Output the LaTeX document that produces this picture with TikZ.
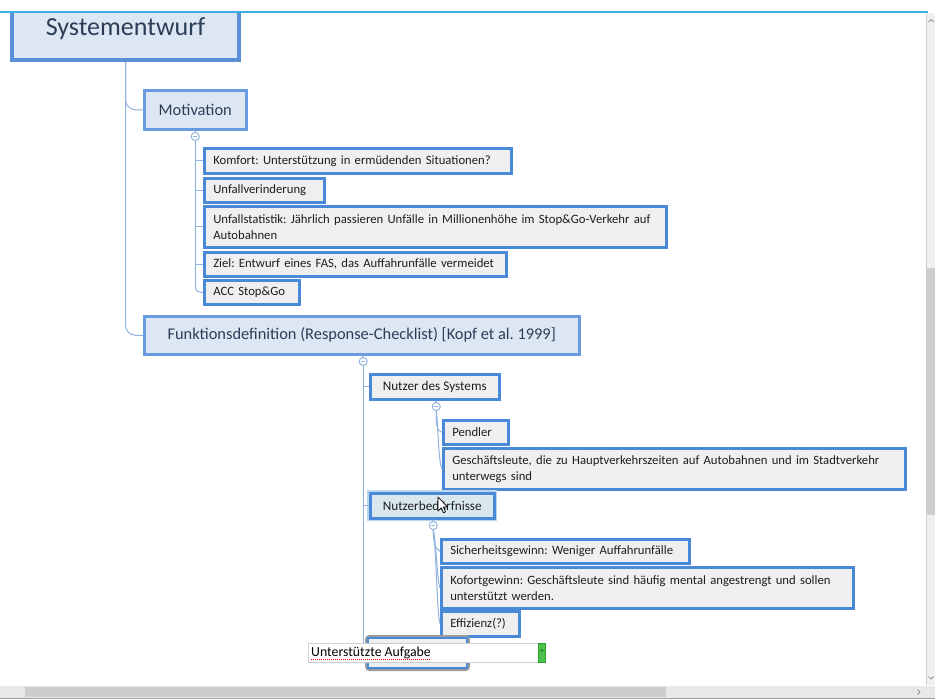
\documentclass[tikz,border=0pt]{standalone}
\usepackage{fontspec}
\setmainfont{Carlito}
\frenchspacing
\usetikzlibrary{calc}
\definecolor{connc}{HTML}{8FB3DE}
\definecolor{rootb}{HTML}{5A8FD8}
\definecolor{headb}{HTML}{6A9BE0}
\definecolor{headf}{HTML}{DDE7F3}
\definecolor{headt}{HTML}{2B3D57}
\definecolor{leafb}{HTML}{4A88D8}
\definecolor{leaff}{HTML}{EFEFEF}
\definecolor{leaft}{HTML}{1E1E1E}
\definecolor{selfill}{HTML}{D9E7EE}
\definecolor{glowc}{HTML}{BCD6EE}
\definecolor{topline}{HTML}{3DAEE0}
\definecolor{grayb}{HTML}{9C9C9C}
\definecolor{editb}{HTML}{D0D0D0}
\definecolor{greenh}{HTML}{4CC24C}
\definecolor{greenb}{HTML}{2E9E2E}
\definecolor{thumbc}{HTML}{CDCDCD}
\definecolor{trackc}{HTML}{F0F0F0}
\definecolor{htrack}{HTML}{E8E8E8}
\tikzset{
  conn/.style={draw=connc, line width=1pt},
  rootbox/.style={draw=rootb, line width=4pt, fill=headf, text=headt,
    font=\fontsize{26}{30}\selectfont, anchor=north west, inner sep=0pt},
  headbox/.style={draw=headb, line width=2.5pt, fill=headf, text=headt,
    font=\fontsize{16.4}{19}\selectfont, anchor=north west, inner sep=0pt},
  midbox/.style={draw=leafb, line width=2.5pt, fill=leaff, text=leaft,
    font=\fontsize{13.2}{16}\selectfont, anchor=north west, inner sep=0pt},
  selbox/.style={midbox, fill=selfill, preaction={draw=glowc, line width=6pt}},
  leafbox/.style={midbox, font=\fontsize{12.7}{16}\selectfont, align=left, inner xsep=9pt, inner ysep=0pt},
  coll/.style={circle, draw=connc, fill=white, line width=0.8pt,
    minimum size=8pt, inner sep=0pt,
    path picture={\draw[connc, line width=0.8pt]
      ([xshift=-2.2pt]path picture bounding box.center) --
      ([xshift=2.2pt]path picture bounding box.center);}},
}
\begin{document}
\begin{tikzpicture}[x=1pt,y=-1pt]
\useasboundingbox (0,0) rectangle (935,699);
\fill[white] (0,0) rectangle (935,699);
\begin{scope}
\clip (0,12) rectangle (926,685);
% root and level 1
\node[rootbox, minimum width=227, minimum height=62] (root) at (10,-4) {Systementwurf};
\node[headbox, minimum width=102, minimum height=39] (motiv) at (143,89) {Motivation};
\node[headbox, minimum width=435, minimum height=38] (funk) at (143,315) {Funktionsdefinition (Response-Checklist) [Kopf et al. 1999]};
% Motivation children
\node[leafbox, text width=289, minimum height=25] (komf) at (203,147) {\mbox{Komfort: Unterstützung in ermüdenden Situationen?}};
\node[leafbox, text width=102, minimum height=24] (unfv) at (203,177) {\mbox{Unfallverinderung}};
\node[leafbox, text width=444, minimum height=41] (unfs) at (203,205) {\mbox{Unfallstatistik: Jährlich passieren Unfälle in Millionenhöhe im Stop\&Go-Verkehr auf}\\\mbox{Autobahnen}};
\node[leafbox, text width=284, minimum height=24] (ziel) at (203,251) {\mbox{Ziel: Entwurf eines FAS, das Auffahrunfälle vermeidet}};
\node[leafbox, text width=77, minimum height=24] (acc) at (203,279) {\mbox{ACC Stop\&Go}};
% Funktionsdefinition children
\node[midbox, minimum width=129, minimum height=25] (nutz) at (369,373) {Nutzer des Systems};
\node[leafbox, text width=47, minimum height=24] (pend) at (442,419) {\mbox{Pendler}};
\node[leafbox, text width=444, minimum height=41] (gesch) at (442,447) {\mbox{Geschäftsleute, die zu Hauptverkehrszeiten auf Autobahnen und im Stadtverkehr}\\\mbox{unterwegs sind}};
\node[selbox, minimum width=124, minimum height=25] (bed) at (369,492) {Nutzerbedürfnisse};
\node[leafbox, text width=230, minimum height=24] (sich) at (440,538) {\mbox{Sicherheitsgewinn: Weniger Auffahrunfälle}};
\node[leafbox, text width=394, minimum height=41] (kof) at (440,566) {\mbox{Kofortgewinn: Geschäftsleute sind häufig mental angestrengt und sollen}\\\mbox{unterstützt werden.}};
\node[leafbox, text width=60, minimum height=25] (eff) at (440,610) {\mbox{Effizienz(?)}};
% node being edited
\node[anchor=north west, draw=grayb, line width=3pt, rounded corners=3pt, fill=leaff,
  minimum width=102, minimum height=33, inner sep=0pt] (aufg) at (365,635) {};
\draw[leafb, line width=2.5pt] ([shift={(3,3)}]aufg.north west) rectangle ([shift={(-3,-3)}]aufg.south east);
% collapse circles
\node[coll] (c1) at ($(motiv.south)+(0,6)$) {};
\node[coll] (c2) at ($(funk.south)+(1.5,6)$) {};
\node[coll] (c3) at ($(nutz.south)+(1.5,6)$) {};
\node[coll] (c4) at ($(bed.south)+(1,6)$) {};
% connectors
\draw[conn, rounded corners=10pt] (root.south) |- (motiv.west);
\draw[conn, rounded corners=10pt] (root.south) |- (funk.west);
\draw[conn] (motiv.south) -- (c1.north);
\draw[conn] (c1.south) |- (komf.west);
\draw[conn] (c1.south) |- (unfv.west);
\draw[conn] (c1.south) |- (unfs.west);
\draw[conn] (c1.south) |- (ziel.west);
\draw[conn, rounded corners=5pt] (c1.south) |- (acc.west);
\draw[conn] (funk.south) -- (c2.north);
\draw[conn] (c2.south) |- (nutz.west);
\draw[conn] (c2.south) |- (bed.west);
\draw[conn] (c2.south) |- (aufg.west);
\draw[conn] (nutz.south) -- (c3.north);
\draw[conn] (c3.south) .. controls +(0,10) and +(-6,0) .. (pend.west);
\draw[conn] (c3.south) .. controls +(2,12) and +(-4,-8) .. (gesch.west);
\draw[conn] (bed.south) -- (c4.north);
\draw[conn] (c4.south) .. controls +(0,12) and +(-5,-2) .. (sich.west);
\draw[conn] (c4.south) .. controls +(3,14) and +(-3,-8) .. (kof.west);
\draw[conn] (c4.south) .. controls +(3,20) and +(-3,-10) .. (eff.west);
% redraw collapse circles on top
\node[coll] at (c1) {};
\node[coll] at (c2) {};
\node[coll] at (c3) {};
\node[coll] at (c4) {};
% edit field
\node[anchor=north west, draw=editb, fill=white, line width=0.8pt,
  minimum width=237, minimum height=19, inner sep=0pt] (edit) at (308,643) {};
\node[anchor=west, inner sep=0pt, text=black, font=\fontsize{13.8}{16}\selectfont] (edt) at ($(edit.west)+(3,0)$) {Unterstützte Aufgabe};
\draw[red!85!black, line width=0.9pt, dash pattern=on 1pt off 1pt] ($(edt.base west)+(0,2.5)$) -- ($(edt.base east)+(0,2.5)$);
\node[anchor=north east, fill=greenh, draw=greenb, line width=0.6pt,
  minimum width=7, minimum height=19, inner sep=0pt] (hnd) at (edit.north east) {};
\draw[greenb!70!black, line width=0.6pt] ($(hnd.center)+(-1.5,-4)$) -- ($(hnd.center)+(1.2,-2.5)$) -- ($(hnd.center)+(-1.5,-1)$);
% mouse cursor
\draw[fill=white, draw=black, line width=0.7pt, line join=round]
  (438,497) -- (438,511) -- (441.3,507.8) -- (443.5,512.8) -- (445.5,511.9)
  -- (443.3,507) -- (447.5,507) -- cycle;
\end{scope}
% window chrome
\draw[topline, line width=2pt] (0,11.5) -- (928,11.5);
\fill[trackc] (926,12.5) rectangle (935,685);
\draw[editb, line width=0.5pt] (926,12.5) -- (926,685);
\fill[thumbc] (927,268) rectangle (935,515);
\draw[gray, line width=0.7pt] (928.5,22) -- (931,19.5) -- (933.5,22);
\draw[gray, line width=0.7pt] (928.5,676.5) -- (931,679) -- (933.5,676.5);
\fill[htrack] (0,685.5) rectangle (935,699);
\fill[thumbc] (25,686.5) rectangle (666,697);
\draw[gray, line width=0.7pt] (917.5,689.5) -- (920,692) -- (917.5,694.5);
\draw[grayb, line width=1pt] (0,698.5) -- (935,698.5);
\end{tikzpicture}
\end{document}
